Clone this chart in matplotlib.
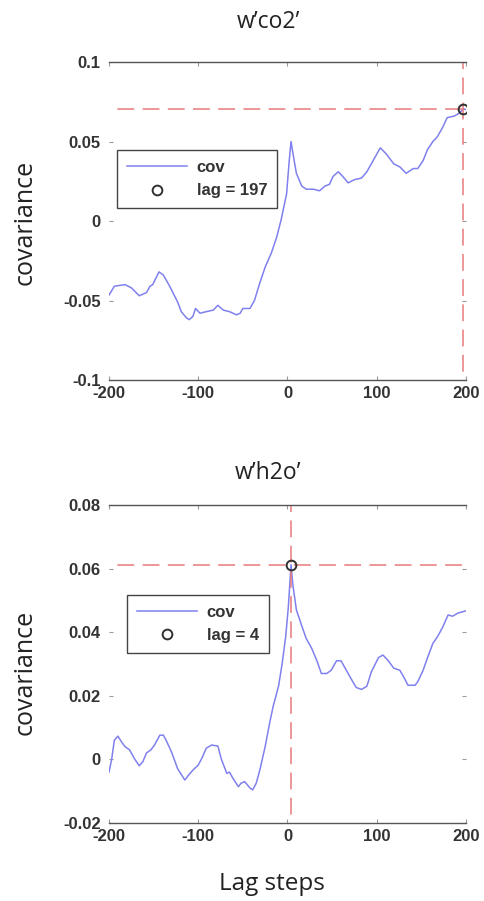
import numpy as np
import matplotlib
matplotlib.use('Agg')
import matplotlib.pyplot as plt

# lag steps and covariance (w'co2')
co2_lag = [-200, -194, -182, -175, -166, -158, -154, -151, -144, -139, -132, -123, -119, -113,
           -110, -106, -103, -98, -91, -83, -78, -72, -65, -57, -53, -50, -42, -37, -31, -25,
           -18, -12, -7, -1, 2, 4, 6, 10, 16, 21, 29, 36, 42, 47, 51, 57, 62, 68, 75, 83, 89,
           96, 104, 111, 119, 126, 133, 141, 146, 152, 157, 163, 168, 174, 179, 187, 193, 197, 200]
co2_cov = [-0.0466, -0.041, -0.040, -0.042, -0.047, -0.045, -0.041, -0.040, -0.032, -0.034,
           -0.041, -0.051, -0.057, -0.061, -0.062, -0.060, -0.055, -0.058, -0.057, -0.056,
           -0.053, -0.056, -0.057, -0.059, -0.058, -0.055, -0.055, -0.050, -0.039, -0.029,
           -0.020, -0.010, 0.001, 0.017, 0.038, 0.050, 0.043, 0.030, 0.022, 0.020, 0.020,
           0.019, 0.022, 0.023, 0.028, 0.031, 0.028, 0.024, 0.026, 0.027, 0.031, 0.038,
           0.046, 0.042, 0.036, 0.034, 0.030, 0.033, 0.033, 0.038, 0.045, 0.050, 0.053,
           0.059, 0.065, 0.066, 0.068, 0.0706, 0.070]
co2_best_lag = 197
co2_best_cov = 0.0706

# w'h2o'
h2o_lag = [-200, -197, -194, -190, -186, -182, -177, -171, -166, -162, -158, -153, -149, -143,
           -139, -136, -130, -123, -115, -111, -106, -100, -96, -91, -85, -78, -74, -68, -65,
           -61, -55, -52, -48, -42, -39, -35, -31, -25, -20, -16, -10, -6, -2, 1, 4, 6, 10,
           16, 21, 27, 33, 38, 44, 49, 55, 60, 66, 72, 77, 83, 89, 94, 102, 107, 113, 119,
           126, 132, 135, 143, 146, 152, 157, 163, 168, 174, 180, 185, 191, 200]
h2o_cov = [-0.004, 0.000, 0.006, 0.0073, 0.0055, 0.004, 0.003, 0.000, -0.002, -0.0007, 0.002,
           0.003, 0.0045, 0.0076, 0.0076, 0.006, 0.0024, -0.003, -0.0065, -0.005, -0.0034,
           -0.0018, 0.0003, 0.0035, 0.0045, 0.0042, 0.000, -0.0044, -0.004, -0.006, -0.0086,
           -0.0075, -0.007, -0.009, -0.0096, -0.0075, -0.0034, 0.004, 0.0114, 0.0167, 0.023,
           0.030, 0.0385, 0.048, 0.0612, 0.055, 0.047, 0.042, 0.038, 0.035, 0.031, 0.027,
           0.027, 0.028, 0.031, 0.031, 0.028, 0.025, 0.0226, 0.022, 0.023, 0.0275, 0.032,
           0.0328, 0.031, 0.0287, 0.028, 0.025, 0.0233, 0.0233, 0.0244, 0.028, 0.032,
           0.0365, 0.0385, 0.0416, 0.0454, 0.045, 0.046, 0.0467]
h2o_best_lag = 4
h2o_best_cov = 0.0612

panels = [
    dict(title="w\u2019co2\u2019", lag=co2_lag, cov=co2_cov, best=(co2_best_lag, co2_best_cov),
         ylim=(-0.1, 0.1), yticks=[-0.1, -0.05, 0, 0.05, 0.1],
         ylabels=['-0.1', '-0.05', '0', '0.05', '0.1'],
         rect=[0.2247, 0.5782, 0.736, 0.353], leg=(0.022, 0.723), title_y=22, ylab_y=222),
    dict(title="w\u2019h2o\u2019", lag=h2o_lag, cov=h2o_cov, best=(h2o_best_lag, h2o_best_cov),
         ylim=(-0.02, 0.08), yticks=[-0.02, 0, 0.02, 0.04, 0.06, 0.08],
         ylabels=['-0.02', '0', '0.02', '0.04', '0.06', '0.08'],
         rect=[0.2247, 0.0866, 0.736, 0.353], leg=(0.05, 0.717), title_y=473, ylab_y=672),
]

W, H = 485, 901
fig = plt.figure(figsize=(W / 100, H / 100), dpi=100)
tick_font = dict(family='Liberation Sans', weight='bold', size=12)

for p in panels:
    ax = fig.add_axes(p['rect'])
    ax.plot(p['lag'], p['cov'], color='#8080ee', lw=1.1, label='cov')
    bx, by = p['best']
    ax.axhline(by, color='#ea7a7a', lw=1.1, linestyle=(11, (11, 5.5)))
    ax.axvline(bx, color='#ea7a7a', lw=1.1, linestyle=(11, (11, 5.5)))
    ax.plot([bx], [by], 'o', mfc='none', mec='#303030', mew=1.4, ms=7,
            label=f'lag = {bx}', linestyle='none')

    ax.set_xlim(-200, 200)
    ax.set_ylim(*p['ylim'])
    ax.set_xticks([-200, -100, 0, 100, 200])
    ax.set_xticklabels(['-200', '-100', '0', '100', '200'], fontdict=tick_font, color='#333333')
    ax.set_yticks(p['yticks'])
    ax.set_yticklabels(p['ylabels'], fontdict=tick_font, color='#333333')
    ax.tick_params(direction='in', length=3, color='#999999', top=True, right=True)
    ax.tick_params(axis='x', pad=4)
    ax.tick_params(axis='y', pad=6)
    for s in ['left', 'right']:
        ax.spines[s].set_visible(False)
    for s in ['top', 'bottom']:
        ax.spines[s].set_color('#555555')
        ax.spines[s].set_linewidth(1.0)

    fig.text(268 / W, 1 - p['title_y'] / H, p['title'], family='Open Sans', fontsize=16.5,
             color='#222222', ha='center', va='center')
    fig.text(25 / W, 1 - p['ylab_y'] / H, 'covariance', family='Open Sans', fontsize=18,
             color='#222222', rotation=90, ha='center', va='center')

    leg = ax.legend(loc='upper left', bbox_to_anchor=p['leg'], fancybox=False,
                    prop=dict(family='Liberation Sans', weight='bold', size=12),
                    handlelength=3.6, handletextpad=0.6, borderpad=0.6,
                    labelspacing=0.5, borderaxespad=0, framealpha=1)
    leg.get_frame().set_edgecolor('#444444')
    leg.get_frame().set_linewidth(1.0)
    for t in leg.get_texts():
        t.set_color('#333333')

fig.text(272 / W, 1 - 884 / H, 'Lag steps', family='Open Sans', fontsize=17.5,
         color='#222222', ha='center', va='center')

plt.savefig('out.png', dpi=100)
plt.close()
